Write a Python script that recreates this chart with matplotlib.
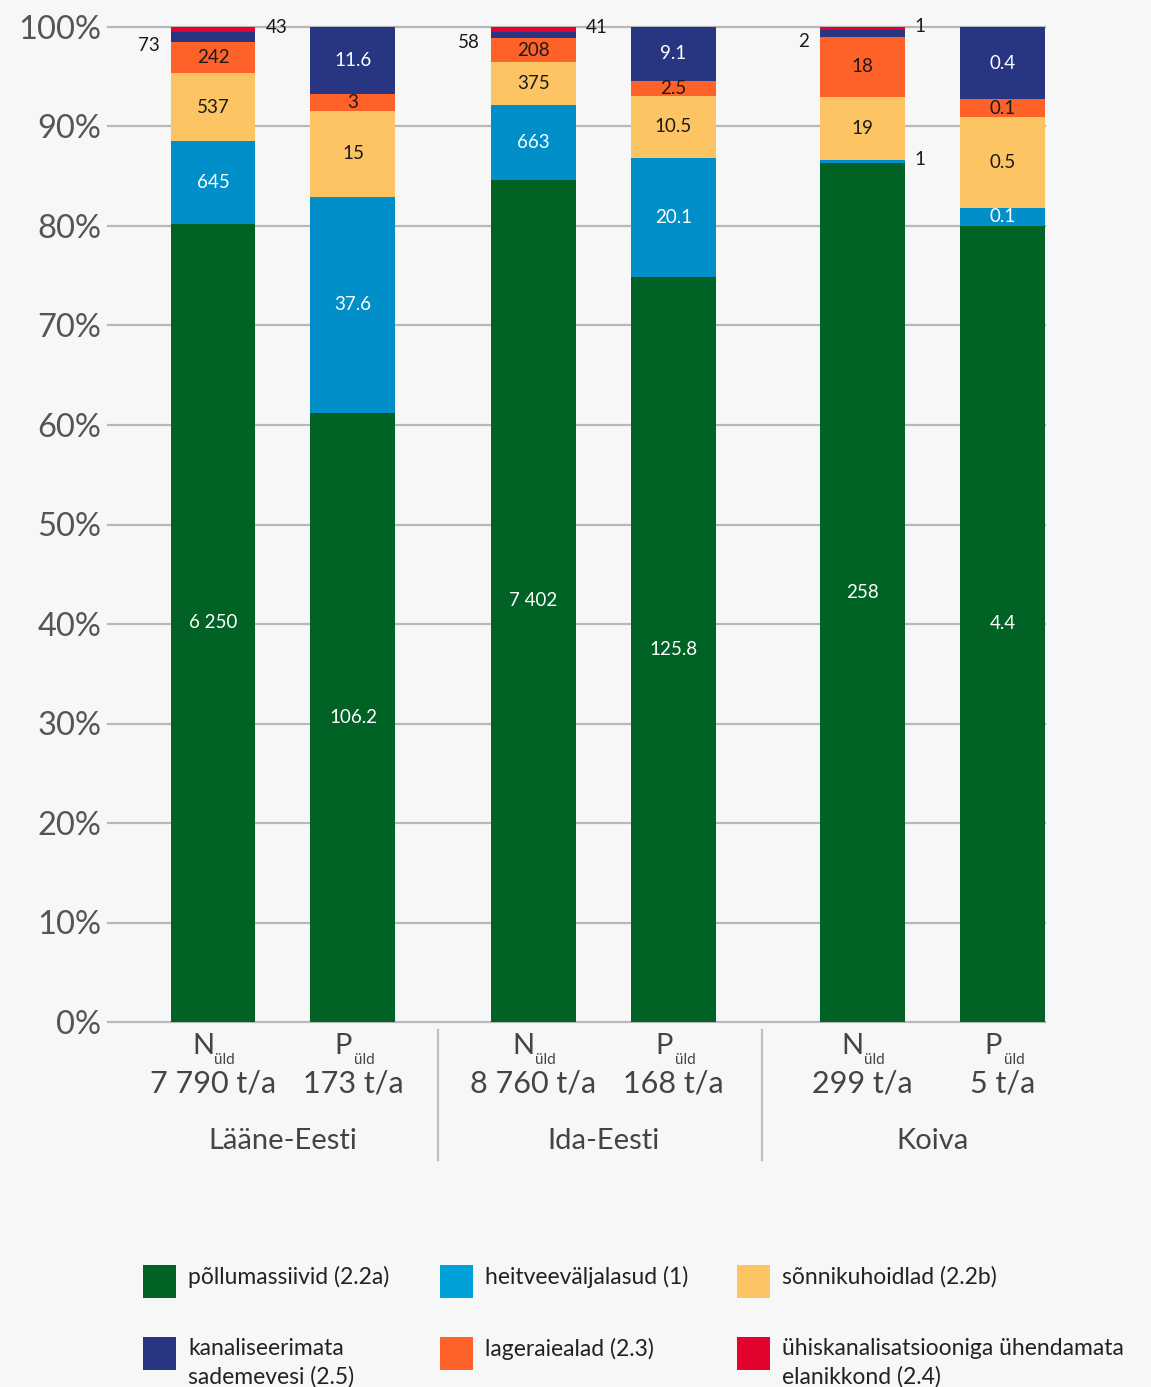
import matplotlib
matplotlib.use("Agg")
import matplotlib.pyplot as plt
from matplotlib.patches import Rectangle
from matplotlib.lines import Line2D

plt.rcParams['font.family'] = ['Lato', 'DejaVu Sans']

# ---------------- data ----------------
regions = ['Lääne-Eesti', 'Ida-Eesti', 'Koiva']
nutrients = ['N', 'P', 'N', 'P', 'N', 'P']
totals = ['7 790 t/a', '173 t/a', '8 760 t/a', '168 t/a', '299 t/a', '5 t/a']

series_names = ['põllumassiivid (2.2a)', 'heitveeväljalasud (1)', 'sõnnikuhoidlad (2.2b)',
                'lageraiealad (2.3)', 'kanaliseerimata\nsademevesi (2.5)',
                'ühiskanalisatsiooniga ühendamata\nelanikkond (2.4)']
pollumassiivid = [6250, 106.2, 7402, 125.8, 258, 4.4]
heitveevaljalasud = [645, 37.6, 663, 20.1, 1, 0.1]
sonnikuhoidlad = [537, 15, 375, 10.5, 19, 0.5]
lageraiealad = [242, 3, 208, 2.5, 18, 0.1]
sademevesi = [73, 11.6, 58, 9.1, 2, 0.4]
elanikkond = [43, 0, 41, 0, 1, 0]

series = [pollumassiivid, heitveevaljalasud, sonnikuhoidlad, lageraiealad, sademevesi, elanikkond]
colors = ['#006325', '#008fc8', '#fdc463', '#ff6228', '#283583', '#e4032e']
legend_colors = ['#006325', '#00a0d8', '#fdc463', '#ff6228', '#283583', '#e4032e']
text_colors = ['white', 'white', '#1a1a1a', '#1a1a1a', 'white', 'white']

BG = '#f7f7f7'
W, H = 1151, 1387
fig = plt.figure(figsize=(W / 100, H / 100), dpi=100, facecolor=BG)

ax_left, ax_right, ax_top, ax_bot = 108, 1045, 27, 1022
ax = fig.add_axes([ax_left / W, 1 - ax_bot / H, (ax_right - ax_left) / W, (ax_bot - ax_top) / H])
ax.set_facecolor(BG)

group_offsets = [0, 2.29, 4.64]
positions = [go + k for go in group_offsets for k in range(2)]
bar_w = 0.607


def fmt(v):
    if float(v).is_integer():
        return f"{int(v):,}".replace(',', ' ')
    return f"{v}"


n = len(positions)
sums = [sum(s[i] for s in series) for i in range(n)]
bottoms = [0.0] * n
for si, s in enumerate(series):
    pct = [s[i] / sums[i] * 100 for i in range(n)]
    ax.bar(positions, pct, bottom=bottoms, width=bar_w, color=colors[si], linewidth=0, zorder=2)
    for i in range(n):
        if s[i] == 0:
            continue
        yc = bottoms[i] + pct[i] / 2
        if pct[i] >= 1.45:
            ax.text(positions[i], yc, fmt(s[i]), ha='center', va='center',
                    fontsize=13.5, color=text_colors[si], zorder=3)
        elif si == 4:
            ax.text(positions[i] - bar_w / 2 - 0.08, yc - 0.8, fmt(s[i]), ha='right', va='center',
                    fontsize=13.5, color='#1a1a1a', zorder=3)
        else:
            ax.text(positions[i] + bar_w / 2 + 0.07, yc + 0.2, fmt(s[i]), ha='left', va='center',
                    fontsize=13.5, color='#1a1a1a', zorder=3)
    bottoms = [bottoms[i] + pct[i] for i in range(n)]

ax.set_xlim(-0.75, positions[-1] + bar_w / 2)
ax.set_ylim(0, 100)
ax.set_yticks(range(0, 101, 10))
ax.set_yticklabels([f"{v}%" for v in range(0, 101, 10)], fontsize=23.5, color='#555555')
ax.tick_params(axis='y', length=0, pad=5)
ax.set_xticks([])
ax.yaxis.grid(True, color='#b8b8b8', linewidth=1.6)
ax.set_axisbelow(True)
for line in ax.get_ygridlines():
    line.set_clip_on(False)
for sp in ax.spines.values():
    sp.set_visible(False)

# ---------------- x labels ----------------
tr = ax.get_xaxis_transform()


def ay(px):
    return (ax_bot - px) / (ax_bot - ax_top)


for i, x in enumerate(positions):
    ax.text(x - 0.07, ay(1046), nutrients[i], ha='center', va='center', fontsize=21,
            color='#444444', transform=tr, clip_on=False)
    ax.text(x + 0.01, ay(1060), 'üld', ha='left', va='center', fontsize=11,
            color='#444444', transform=tr, clip_on=False)
    ax.text(x, ay(1084), totals[i], ha='center', va='center', fontsize=22,
            color='#444444', transform=tr, clip_on=False)

for g, name in enumerate(regions):
    xc = (positions[2 * g] + positions[2 * g + 1]) / 2
    ax.text(xc, ay(1141), name, ha='center', va='center', fontsize=21,
            color='#444444', transform=tr, clip_on=False)
    if g > 0:
        xd = (positions[2 * g - 1] + positions[2 * g]) / 2 - 0.04
        ax.add_line(Line2D([xd, xd], [ay(1030), ay(1160)], color='#c0c0c0', lw=1.6,
                           transform=tr, clip_on=False))

# ---------------- legend ----------------
col_x = [143, 440, 737]
row_y = [1265, 1337]
order = [0, 1, 2, 4, 3, 5]
for k, si in enumerate(order):
    r, c = divmod(k, 3)
    x0, y0 = col_x[c], row_y[r]
    fig.add_artist(Rectangle((x0 / W, 1 - (y0 + 33) / H), 33 / W, 33 / H,
                             transform=fig.transFigure, color=legend_colors[si], linewidth=0))
    fig.text((x0 + 45) / W, 1 - (y0 + 1) / H, series_names[si], ha='left', va='top',
             fontsize=16.5, color='#222222', linespacing=1.38)

fig.savefig('out.png', dpi=100, facecolor=BG)
